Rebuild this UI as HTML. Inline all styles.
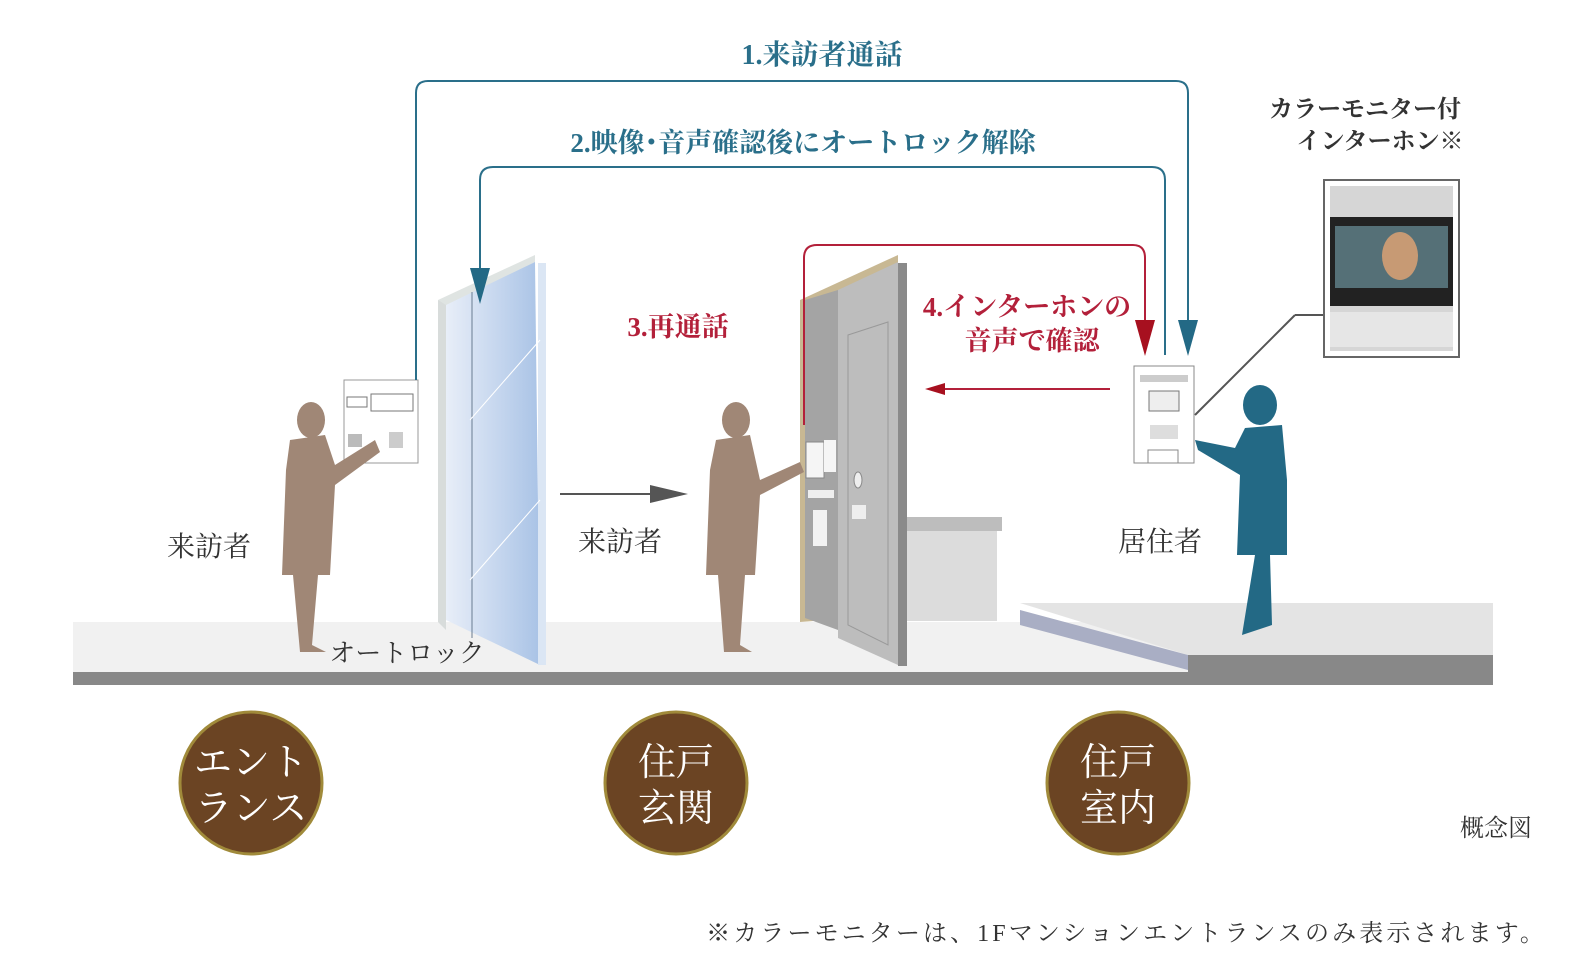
<!DOCTYPE html>
<html><head><meta charset="utf-8"><style>
body{margin:0;background:#fff}
svg{display:block}
text{font-family:"Liberation Serif","Noto Serif CJK SC",serif}
</style></head><body>
<svg width="1580" height="956" viewBox="0 0 1580 956" xmlns="http://www.w3.org/2000/svg">
<defs>
<linearGradient id="gl" x1="0" x2="1"><stop offset="0" stop-color="#e8eef8"/><stop offset="1" stop-color="#a9c3e6"/></linearGradient>
</defs>
<rect x="73" y="622" width="1420" height="52" fill="#f1f1f1"/>
<rect x="73" y="672" width="1420" height="13" fill="#888"/>
<polygon points="1020,603 1493,603 1493,655 1188,655" fill="#e4e4e4"/>
<polygon points="1020,610 1188,655 1188,670 1020,625" fill="#a9aec4"/>
<rect x="1188" y="655" width="305" height="30" fill="#888"/>
<rect x="905" y="517" width="97" height="14" fill="#bdbdbd"/>
<rect x="905" y="531" width="92" height="90" fill="#dcdcdc"/>
<polygon points="438,300 535,255 535,262 445,308" fill="#dfe4e2"/>
<polygon points="438,300 446,305 446,630 438,622" fill="#d8dcdb"/>
<polygon points="446,305 535,262 540,665 446,620" fill="url(#gl)"/>
<rect x="538" y="263" width="8" height="402" fill="#dbe6f4"/>
<line x1="472" y1="292" x2="472" y2="638" stroke="#6a7c90" stroke-width="1"/>
<line x1="470" y1="420" x2="540" y2="340" stroke="#fff" stroke-width="1"/>
<line x1="470" y1="580" x2="540" y2="500" stroke="#fff" stroke-width="1"/>
<rect x="344" y="380" width="74" height="83" fill="#fff" stroke="#999"/>
<rect x="347" y="397" width="20" height="10" fill="none" stroke="#777"/>
<rect x="371" y="394" width="42" height="17" fill="none" stroke="#777"/>
<rect x="348" y="434" width="14" height="13" fill="#bbb"/>
<rect x="389" y="432" width="14" height="16" fill="#ccc"/>
<polygon points="800,300 898,255 898,615 800,622" fill="#c8b893"/>
<polygon points="805,300 838,290 838,630 805,618" fill="#a4a4a4"/>
<polygon points="838,290 898,262 898,665 838,638" fill="#bdbdbd"/>
<rect x="898" y="263" width="9" height="403" fill="#8a8a8a"/>
<polygon points="848,335 888,322 888,645 848,625" fill="none" stroke="#999"/>
<rect x="806" y="442" width="18" height="36" fill="#f5f5f5" stroke="#888"/>
<rect x="824" y="440" width="12" height="32" fill="#f5f5f5"/>
<rect x="808" y="490" width="26" height="8" fill="#eee"/>
<rect x="813" y="510" width="14" height="36" fill="#f2f2f2"/>
<ellipse cx="858" cy="480" rx="4" ry="8" fill="#eee" stroke="#888"/>
<rect x="852" y="505" width="14" height="14" fill="#eee"/>
<rect x="1134" y="366" width="60" height="97" fill="#fff" stroke="#888"/>
<rect x="1140" y="375" width="48" height="7" fill="#ccc"/>
<rect x="1149" y="391" width="30" height="20" fill="#eee" stroke="#777"/>
<rect x="1150" y="425" width="28" height="14" fill="#ddd"/>
<rect x="1148" y="450" width="30" height="13" fill="none" stroke="#888"/>
<line x1="1195" y1="415" x2="1295" y2="315" stroke="#555" stroke-width="2"/>
<line x1="1295" y1="315" x2="1325" y2="315" stroke="#555" stroke-width="2"/>
<rect x="1324" y="180" width="135" height="177" fill="#fff" stroke="#666" stroke-width="2"/>
<rect x="1330" y="186" width="123" height="165" fill="#d6d6d6"/>
<rect x="1330" y="217" width="123" height="89" fill="#222"/>
<rect x="1335" y="226" width="113" height="62" fill="#557077"/>
<ellipse cx="1400" cy="256" rx="18" ry="24" fill="#c79a74"/>
<rect x="1330" y="312" width="123" height="35" fill="#e6e6e6"/>
<g fill="#a08776">
<ellipse cx="311" cy="420" rx="14" ry="18"/><polygon points="290,440 325,435 335,465 375,440 380,452 335,485 330,575 318,575 312,645 326,652 300,652 293,575 282,575 286,470"/>
<ellipse cx="736" cy="420" rx="14" ry="18"/><polygon points="716,440 750,435 760,480 800,462 804,472 760,495 755,575 745,575 740,645 752,652 724,652 718,575 706,575 710,470"/>
</g>
<g fill="#236985">
<ellipse cx="1260" cy="405" rx="17" ry="20"/><polygon points="1245,428 1282,425 1287,480 1287,555 1270,555 1272,625 1242,635 1255,555 1237,555 1240,475 1198,450 1195,440 1235,448"/>
</g>
<g fill="none" stroke="#2a6f8a" stroke-width="2">
<path d="M416,380 V93 Q416,81 428,81 H1176 Q1188,81 1188,93 V325"/>
<path d="M1165,355 V180 Q1165,167 1152,167 H493 Q480,167 480,180 V275"/>
</g>
<polygon points="1178,320 1198,320 1188,356" fill="#236985"/>
<polygon points="470,268 490,268 480,304" fill="#236985"/>
<g fill="none" stroke="#b3203a" stroke-width="2">
<path d="M804,425 V258 Q804,245 817,245 H1133 Q1145,245 1145,258 V325"/>
<line x1="1110" y1="389" x2="940" y2="389"/>
</g>
<polygon points="1135,320 1155,320 1145,356" fill="#a7101f"/>
<polygon points="925,389 945,383 945,395" fill="#a7101f"/>
<line x1="560" y1="494" x2="655" y2="494" stroke="#555" stroke-width="2"/>
<polygon points="650,485 688,494 650,503" fill="#555"/>
<g font-size="27" font-weight="bold">
<text x="822" y="64" fill="#2a6f8a" text-anchor="middle" font-size="28">1.来訪者通話</text>
<text x="803" y="152" fill="#2a6f8a" text-anchor="middle">2.映像･音声確認後にオートロック解除</text>
<text x="678" y="336" fill="#b3203a" text-anchor="middle">3.再通話</text>
<text x="1027" y="316" fill="#b3203a" text-anchor="middle">4.インターホンの</text>
<text x="1032" y="350" fill="#b3203a" text-anchor="middle">音声で確認</text>
</g>
<g font-size="28" fill="#333">
<text x="209" y="556" text-anchor="middle">来訪者</text>
<text x="620" y="551" text-anchor="middle">来訪者</text>
<text x="1160" y="551" text-anchor="middle">居住者</text>
<text x="407" y="662" text-anchor="middle" font-size="26">オートロック</text>
<text x="1365" y="117" text-anchor="middle" font-weight="bold" font-size="24">カラーモニター付</text>
<text x="1380" y="149" text-anchor="middle" font-weight="bold" font-size="24">インターホン※</text>
<text x="1496" y="836" text-anchor="middle" font-size="24">概念図</text>
<text x="1547" y="941" text-anchor="end" font-size="24" letter-spacing="3.1">※カラーモニターは、1Fマンションエントランスのみ表示されます。</text>
</g>
<g fill="#6b4423" stroke="#a08a3a" stroke-width="3">
<circle cx="251" cy="783" r="71"/><circle cx="676" cy="783" r="71"/><circle cx="1118" cy="783" r="71"/>
</g>
<g fill="#fff" font-size="38" text-anchor="middle">
<text x="251" y="775">エント</text><text x="251" y="821">ランス</text>
<text x="676" y="775">住戸</text><text x="676" y="821">玄関</text>
<text x="1118" y="775">住戸</text><text x="1118" y="821">室内</text>
</g>
</svg>
</body></html>
